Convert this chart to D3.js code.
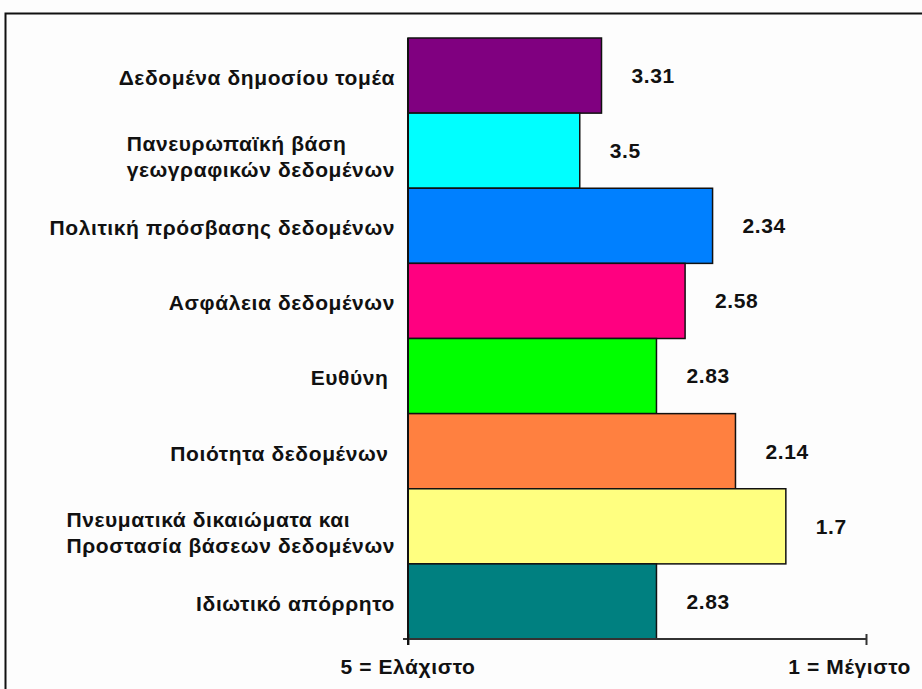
<!DOCTYPE html>
<html>
<head>
<meta charset="utf-8">
<script src="https://cdn.jsdelivr.net/npm/d3@7"></script>
<style>
  html, body { margin: 0; padding: 0; background: #fdfdfd; }
  svg { display: block; }
  text { font-family: "Liberation Sans", Arial, sans-serif; font-weight: bold; fill: #111; }
</style>
</head>
<body>
<svg id="chart" width="922" height="689"></svg>
<script>
const categories = [
  ["Δεδομένα δημοσίου τομέα"],
  ["Πανευρωπαϊκή βάση", "γεωγραφικών δεδομένων"],
  ["Πολιτική πρόσβασης δεδομένων"],
  ["Ασφάλεια δεδομένων"],
  ["Ευθύνη\u00A0"],
  ["Ποιότητα δεδομένων\u00A0"],
  ["Πνευματικά δικαιώματα και", "Προστασία βάσεων δεδομένων"],
  ["Ιδιωτικό απόρρητο"]
];
const values = [3.31, 3.5, 2.34, 2.58, 2.83, 2.14, 1.7, 2.83];
const valueLabels = ["3.31", "3.5", "2.34", "2.58", "2.83", "2.14", "1.7", "2.83"];
const colors = ["#800080", "#00FFFF", "#0080FF", "#FF0080", "#00FF00", "#FF8040", "#FFFF80", "#008080"];
const axisDomain = [5, 1];
const axisLabels = ["5 = Ελάχιστο", "1 = Μέγιστο"];

const svg = d3.select("#chart");
const FS = 21;
const LS = 0.6;

// outer frame
svg.append("rect")
  .attr("x", 5.5).attr("y", 13.5)
  .attr("width", 1000).attr("height", 1000)
  .attr("fill", "#fdfdfd")
  .attr("stroke", "#111").attr("stroke-width", 2);

const plot = { left: 408, right: 866, top: 38, bottom: 639 };
const x = d3.scaleLinear().domain(axisDomain).range([plot.left, plot.right]);
const y = d3.scaleBand().domain(d3.range(values.length)).range([plot.top, plot.bottom]).padding(0);

// bars
svg.append("g").selectAll("rect")
  .data(values)
  .join("rect")
  .attr("x", x(axisDomain[0]))
  .attr("y", (d, i) => y(i))
  .attr("width", d => x(d) - x(axisDomain[0]))
  .attr("height", y.bandwidth())
  .attr("fill", (d, i) => colors[i])
  .attr("stroke", "#111")
  .attr("stroke-width", 1.5);

// value labels
svg.append("g").selectAll("text")
  .data(values)
  .join("text")
  .attr("x", d => x(d) + 30)
  .attr("y", (d, i) => y(i) + y.bandwidth() / 2)
  .attr("dy", "0.35em")
  .attr("font-size", FS)
  .attr("letter-spacing", LS)
  .text((d, i) => valueLabels[i]);

// category labels
const lineH = 26;
const catG = svg.append("g");
categories.forEach((lines, i) => {
  const cy = y(i) + y.bandwidth() / 2 + (lines.length > 1 ? 6 : 2);
  const t = catG.append("text")
    .attr("font-size", FS)
    .attr("letter-spacing", LS)
    .attr("text-anchor", lines.length > 1 ? "start" : "end");
  lines.forEach((ln, j) => {
    t.append("tspan")
      .attr("x", 395)
      .attr("y", cy + (j - (lines.length - 1) / 2) * lineH)
      .attr("dy", "0.35em")
      .text(ln);
  });
  if (lines.length > 1) {
    const w = t.node().getBBox().width;
    t.selectAll("tspan").attr("x", 395 - w);
  }
});

// axes
const xAxis = d3.axisBottom(x).tickValues(axisDomain).tickSize(6).tickFormat("");
const gx = svg.append("g").attr("transform", `translate(0,${plot.bottom})`).call(xAxis);
gx.select(".domain").attr("stroke", "#333").attr("stroke-width", 2).attr("d", `M${plot.left - 5},0H${plot.right}`);
gx.selectAll(".tick line").attr("stroke", "#333").attr("stroke-width", 2).attr("y1", -5).attr("y2", 6);

const yAxis = d3.axisLeft(y).tickSize(0).tickFormat("");
const gy = svg.append("g").attr("transform", `translate(${plot.left},0)`).call(yAxis);
gy.select(".domain").attr("stroke", "#111").attr("stroke-width", 2).attr("d", `M0,${plot.top}V${plot.bottom + 6}`);

// axis end labels
svg.append("text")
  .attr("x", x(axisDomain[0])).attr("y", 674)
  .attr("text-anchor", "middle").attr("font-size", FS).attr("letter-spacing", LS)
  .text(axisLabels[0]);
svg.append("text")
  .attr("x", 911).attr("y", 674)
  .attr("text-anchor", "end").attr("font-size", FS).attr("letter-spacing", LS)
  .text(axisLabels[1]);
</script>
</body>
</html>
